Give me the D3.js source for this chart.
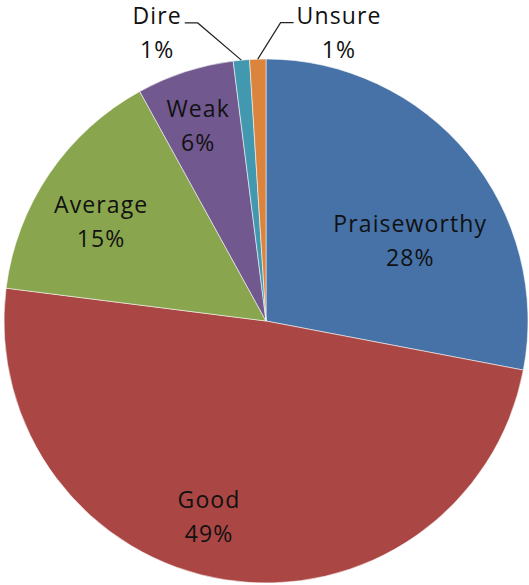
<!DOCTYPE html>
<html>
<head>
<meta charset="utf-8">
<script src="https://cdn.jsdelivr.net/npm/d3@7"></script>
<style>
  html, body { margin: 0; padding: 0; background: #fff; }
  svg { display: block; }
  text { font-family: "Open Sans", "DejaVu Sans", sans-serif; font-size: 23px; letter-spacing: 1.1px; fill: #111; }
</style>
</head>
<body>
<svg id="chart" width="529" height="585"></svg>
<script>
// ---- data ----
const categories = ["Praiseworthy", "Good", "Average", "Weak", "Dire", "Unsure"];
const values = [28, 49, 15, 6, 1, 1];
const colors = ["#4672A8", "#AA4643", "#89A54E", "#71588F", "#4198AF", "#DB843D"];

// ---- layout (separate from data) ----
const W = 529, H = 585;
const cx = 266, cy = 321, R = 262;
// inside labels: angular shift (deg) from slice middle, radius as fraction of R
const insideLabel = {
  Praiseworthy: { turn: 10.5, r: 0.63 },
  Good: { turn: 7.2, r: 0.78 },
  Average: { turn: -3.2, r: 0.734 },
  Weak: { turn: -1.2, r: 0.788 }
};
// outside labels with leader lines
const outsideLabel = {
  Dire: { turn: -7.5, r: 1.167, side: -1 },
  Unsure: { turn: 4.6, r: 1.14, side: 1 }
};
const lineGap = 34;

const svg = d3.select("#chart");
svg.append("rect").attr("width", W).attr("height", H).attr("fill", "#fff");

const total = d3.sum(values);
const pct = v => d3.format(".0%")(v / total);
const data = categories.map((c, i) => ({ name: c, value: values[i], color: colors[i] }));

const pie = d3.pie().sort(null).value(d => d.value).startAngle(0).endAngle(2 * Math.PI);
const arcs = pie(data);
const arc = d3.arc().innerRadius(0).outerRadius(R);

const g = svg.append("g").attr("transform", `translate(${cx},${cy})`);

g.selectAll("path.slice")
  .data(arcs)
  .join("path")
  .attr("class", "slice")
  .attr("d", arc)
  .attr("fill", d => d.data.color)
  .attr("stroke", "#fff")
  .attr("stroke-opacity", 0.55)
  .attr("stroke-width", 1);

const polar = (ang, r) => [r * Math.sin(ang), -r * Math.cos(ang)];
const deg = Math.PI / 180;

// inside labels
arcs.forEach(a => {
  const L = insideLabel[a.data.name];
  if (!L) return;
  const mid = (a.startAngle + a.endAngle) / 2 + L.turn * deg;
  const [x, y] = polar(mid, L.r * R);
  const t = g.append("text").attr("text-anchor", "middle");
  t.append("tspan").attr("x", x).attr("y", y - 9).text(a.data.name);
  t.append("tspan").attr("x", x).attr("y", y - 9 + lineGap).text(pct(a.data.value));
});

// outside labels with leader lines
arcs.forEach(a => {
  const L = outsideLabel[a.data.name];
  if (!L) return;
  const mid = (a.startAngle + a.endAngle) / 2;
  const p0 = polar(mid, R);
  const p1 = polar(mid + L.turn * deg, L.r * R);
  const p2 = [p1[0] + L.side * 13, p1[1]];
  g.append("polyline")
    .attr("points", [p0, p1, p2].map(p => p.join(",")).join(" "))
    .attr("fill", "none")
    .attr("stroke", "#222")
    .attr("stroke-width", 1.2);
  const t = g.append("text").attr("text-anchor", "middle");
  const s1 = t.append("tspan").attr("y", p1[1] + 1).text(a.data.name);
  const s2 = t.append("tspan").attr("y", p1[1] + 1 + lineGap).text(pct(a.data.value));
  const wMax = Math.max(s1.node().getComputedTextLength(), s2.node().getComputedTextLength());
  const tx = p2[0] + L.side * (3 + wMax / 2);
  s1.attr("x", tx);
  s2.attr("x", tx);
});
</script>
</body>
</html>
